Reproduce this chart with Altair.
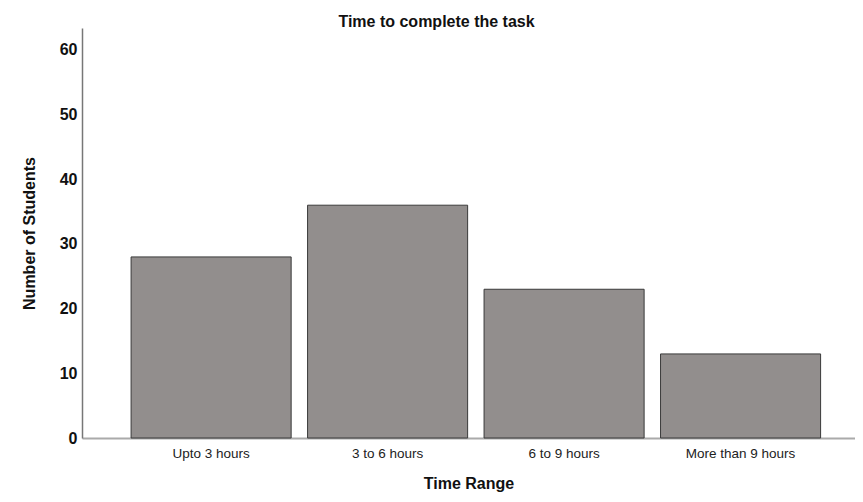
import altair as alt
import pandas as pd

categories = ["Upto 3 hours", "3 to 6 hours", "6 to 9 hours", "More than 9 hours"]
students = [28, 36, 23, 13]

df = pd.DataFrame({"range": categories, "count": students})

chart = alt.Chart(df).mark_bar(
    color="#928e8d", stroke="#3a3a3a", strokeWidth=1
).encode(
    x=alt.X("range:N", sort=categories, title="Time Range",
            scale=alt.Scale(paddingInner=0.093, paddingOuter=0.2365, align=0.588),
            axis=alt.Axis(labelAngle=0, ticks=False, labelPadding=8,
                          labelFont="Liberation Sans", labelFontSize=13.5, labelColor="#222",
                          titleFont="Liberation Sans", titleFontSize=16, titleFontWeight="bold",
                          titleColor="#111", titlePadding=16,
                          domainColor="#aaaaaa", domainWidth=2)),
    y=alt.Y("count:Q", title="Number of Students",
            scale=alt.Scale(domain=[0, 63.4], nice=False),
            axis=alt.Axis(values=[0, 10, 20, 30, 40, 50, 60], grid=False, ticks=False,
                          labelPadding=5, labelFont="Liberation Sans", labelFontSize=16,
                          labelFontWeight="bold", labelColor="#111",
                          titleFont="Liberation Sans", titleFontSize=16, titleFontWeight="bold",
                          titleColor="#111", titlePadding=22,
                          domainColor="#777777", domainWidth=1.5)),
).properties(
    width=773, height=410,
    title=alt.TitleParams("Time to complete the task", font="Liberation Sans", fontSize=16,
                          fontWeight="bold", color="#111", offset=-2, dx=-32),
    autosize=alt.AutoSizeParams(type="none"),
    padding={"left": 74, "top": 20, "right": 0, "bottom": 56},
).configure_view(stroke=None)

chart.save("out.html", embed_options={"renderer": "svg", "actions": False})
